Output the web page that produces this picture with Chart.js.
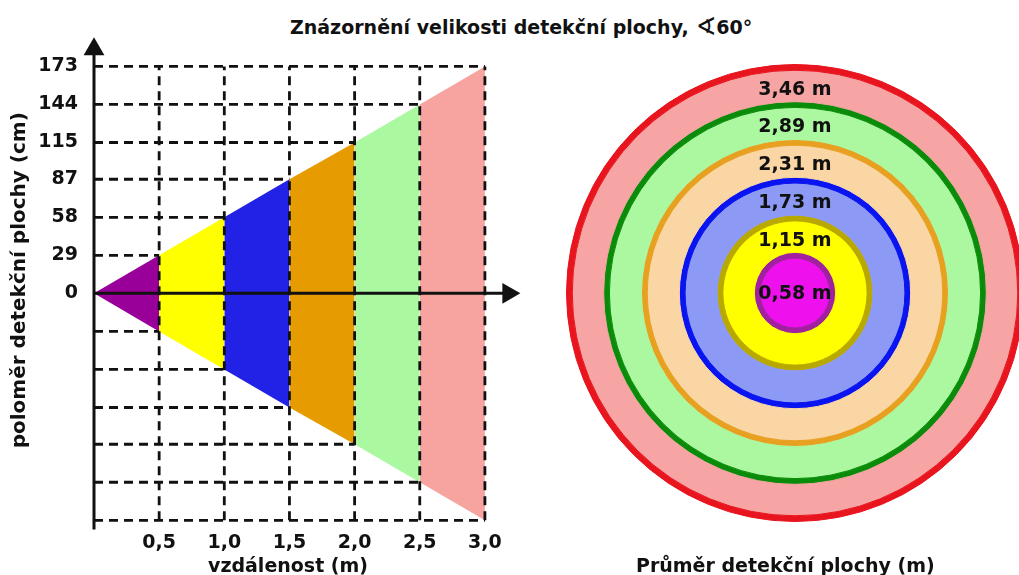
<!DOCTYPE html>
<html>
<head>
<meta charset="utf-8">
<script src="https://cdn.jsdelivr.net/npm/chart.js@4.4.0/dist/chart.umd.min.js"></script>
<style>
  html, body { margin: 0; padding: 0; background: #fff; overflow: hidden; }
  body { width: 1019px; height: 575px; position: relative; font-family: 'DejaVu Sans', sans-serif; font-weight: bold; color: #111; }
  .lbl { position: absolute; font-size: 19px; line-height: 20px; white-space: nowrap; }
  .ang { font-size: 25px; font-weight: normal; vertical-align: -1px; }
  #coneWrap { position: absolute; left: 0; top: 0; width: 545px; height: 575px; }
  #ringWrap { position: absolute; left: 566px; top: 64px; width: 458px; height: 458px; }
</style>
</head>
<body>
<div class="lbl" style="left:290px; top:17px;">Znázornění velikosti detekční plochy, <span class="ang">∢</span>60°</div>
<div id="coneWrap"><canvas id="cone"></canvas></div>
<div id="ringWrap"><canvas id="rings"></canvas></div>
<div class="lbl" style="left:208px; top:555px;">vzdálenost (m)</div>
<div class="lbl" style="left:636px; top:555px;">Průměr detekční plochy (m)</div>
<script>
// data
const distances = [0, 0.5, 1.0, 1.5, 2.0, 2.5, 3.0];      // m
const radiiCm = [0, 29, 58, 87, 115, 144, 173];           // cm, y tick labels too
const segmentColors = ['#990099', '#ffff00', '#2222e6', '#e69c00', '#aaf8a0', '#f7a3a0'];

const diametersM = [0.58, 1.15, 1.73, 2.31, 2.89, 3.46];  // circle diameters
const ringFills = ['#ee11ee', '#ffff00', '#8c9af6', '#f9d6a4', '#acf8a0', '#f6a4a4'];
const ringStrokes = ['#a020a0', '#b8a800', '#0a14f0', '#e8a020', '#0a8c0a', '#e8141e'];

Chart.defaults.font.family = "'DejaVu Sans', sans-serif";
Chart.defaults.font.weight = 'bold';
Chart.defaults.font.size = 19;
Chart.defaults.color = '#111';

const ink = '#111';
const last = radiiCm[radiiCm.length - 1];

// ---- left chart: cone cross-section ----
const coneSets = [];

// axes with arrow heads
coneSets.push({
    data: [{x: 0, y: -180}, {x: 0, y: 186}],
    borderColor: ink, borderWidth: 3, clip: false,
    pointRadius: [0, 12], pointStyle: 'triangle',
    pointBackgroundColor: ink, pointBorderWidth: 0
});
coneSets.push({
    data: [{x: 0, y: 0}, {x: 3.18, y: 0}],
    borderColor: ink, borderWidth: 3, clip: false,
    pointRadius: [0, 12], pointStyle: 'triangle', pointRotation: 90,
    pointBackgroundColor: ink, pointBorderWidth: 0
});

// dashed guides
const dashed = {borderColor: ink, borderWidth: 2.8, borderDash: [9, 6], pointRadius: 0, clip: false};
for (let k = 1; k < distances.length; k++) {
    coneSets.push({...dashed, data: [{x: distances[k], y: -last}, {x: distances[k], y: last}]});
    coneSets.push({...dashed, data: [{x: 0, y: radiiCm[k]}, {x: distances[k], y: radiiCm[k]}]});
    coneSets.push({...dashed, data: [{x: 0, y: -radiiCm[k]}, {x: distances[k], y: -radiiCm[k]}]});
}

// coloured slices, upper and lower half
for (let k = 1; k < distances.length; k++) {
    [1, -1].forEach(sign => {
        coneSets.push({
            data: [{x: distances[k - 1], y: sign * radiiCm[k - 1]}, {x: distances[k], y: sign * radiiCm[k]}],
            borderColor: 'rgba(0,0,0,0)', borderWidth: 0, pointRadius: 0,
            backgroundColor: segmentColors[k - 1], fill: 'origin'
        });
    });
}

new Chart(document.getElementById('cone'), {
    type: 'line',
    data: {datasets: coneSets},
    options: {
        responsive: true,
        maintainAspectRatio: false,
        animation: false,
        events: [],
        layout: {padding: {top: 31, right: 21, left: 0, bottom: 0}},
        plugins: {legend: {display: false}, tooltip: {enabled: false}},
        scales: {
            x: {
                type: 'linear', min: 0, max: 3.3,
                grid: {display: false, drawTicks: false},
                border: {display: false},
                afterBuildTicks: s => { s.ticks = distances.slice(1).map(v => ({value: v})); },
                ticks: {padding: 2, autoSkip: false, maxRotation: 0,
                        callback: v => v.toFixed(1).replace('.', ',')},
                afterFit: s => { s.height = 45.5; }
            },
            y: {
                type: 'linear', min: -180, max: 200,
                grid: {display: false, drawTicks: false},
                border: {display: false},
                afterBuildTicks: s => { s.ticks = radiiCm.map(v => ({value: v})); },
                ticks: {padding: 16, autoSkip: false},
                title: {display: true, text: 'poloměr detekční plochy (cm)', font: {size: 20},
                        padding: {top: 8, bottom: 0}},
                afterFit: s => { s.width = 94; }
            }
        }
    }
});

// ---- right chart: concentric circles as nested rings ----
const strokeM = 0.044;
const ringSets = [];
const fillIndex = [];
for (let i = diametersM.length - 1; i >= 0; i--) {
    const r = diametersM[i] / 2;
    const inner = i > 0 ? diametersM[i - 1] / 2 + strokeM / 2 : 0;
    ringSets.push({data: [1], backgroundColor: ringStrokes[i], borderColor: ringStrokes[i],
                   borderWidth: 1, weight: strokeM});
    fillIndex[i] = ringSets.length;
    ringSets.push({data: [1], backgroundColor: ringFills[i], borderColor: ringFills[i],
                   borderWidth: 1, weight: r - strokeM / 2 - inner});
}

const ringLabels = {
    id: 'ringLabels',
    afterDatasetsDraw(chart) {
        const ctx = chart.ctx;
        ctx.save();
        ctx.font = "bold 19px 'DejaVu Sans'";
        ctx.fillStyle = ink;
        ctx.textAlign = 'center';
        ctx.textBaseline = 'middle';
        diametersM.forEach((d, i) => {
            const arc = chart.getDatasetMeta(fillIndex[i]).data[0];
            const y = i === 0 ? arc.y + 1 : arc.y - (arc.outerRadius + arc.innerRadius) / 2 + 4;
            ctx.fillText(d.toFixed(2).replace('.', ',') + ' m', arc.x, y);
        });
        ctx.restore();
    }
};

new Chart(document.getElementById('rings'), {
    type: 'doughnut',
    data: {labels: ['d'], datasets: ringSets},
    options: {
        responsive: true,
        maintainAspectRatio: false,
        animation: false,
        events: [],
        cutout: 0,
        plugins: {legend: {display: false}, tooltip: {enabled: false}}
    },
    plugins: [ringLabels]
});
</script>
</body>
</html>
